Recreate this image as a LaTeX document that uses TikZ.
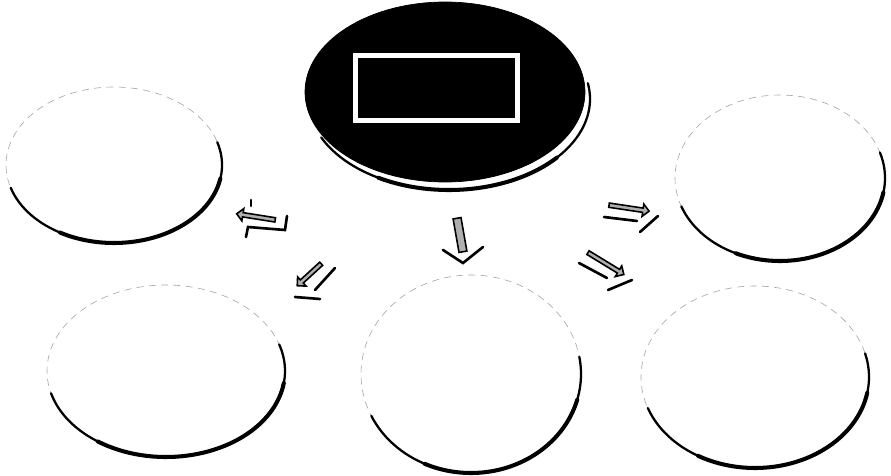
\documentclass[tikz,border=0pt]{standalone}
\usepackage{tikz}
\usetikzlibrary{shapes.geometric, shapes.arrows}
\definecolor{faintgrey}{RGB}{165,165,165}
\definecolor{arrowgrey}{RGB}{175,175,175}

\begin{document}
\begin{tikzpicture}[x=0.2mm, y=0.2mm,
    bubble/.style={ellipse, draw=faintgrey, line width=0.35pt, dash pattern=on 4pt off 3pt, inner sep=0pt},
    rim/.style={black, line width=1.3pt, line cap=round},
    rimheavy/.style={black, line width=2.3pt, line cap=round},
    blockarrow/.style={single arrow, draw=black, line width=0.9pt, fill=arrowgrey,
        inner sep=0pt, minimum width=2.5mm, single arrow head extend=0.3mm},
    smear/.style={black, line width=1.5pt, line cap=round}]

    \useasboundingbox (0,0) rectangle (891,475);

    % hub with its offset shadow line
    \draw[rim] (449,376) ++(205:141 and 91) arc[start angle=205, end angle=370, x radius=141, y radius=91];
    \draw[rimheavy] (449,376) ++(240:141 and 91) arc[start angle=240, end angle=320, x radius=141, y radius=91];
    \node[ellipse, fill=black, draw=black, inner sep=0pt, minimum width=56mm, minimum height=36mm]
        (hub) at (445,383) {};
    \node[draw=white, line width=1mm, inner sep=0pt, minimum width=32.4mm, minimum height=13mm]
        (label) at (436,387) {};

    % the five empty bubbles
    \node[bubble, minimum width=43.2mm, minimum height=31.2mm] (tl) at (114,310) {};
    \draw[rim] (tl.center) ++(197:108 and 78) arc[start angle=197, end angle=377, x radius=108, y radius=78];
    \draw[rimheavy] (tl.center) ++(240:108 and 78) arc[start angle=240, end angle=350, x radius=108, y radius=78];

    \node[bubble, minimum width=42mm, minimum height=33.2mm] (tr) at (780,297) {};
    \draw[rim] (tr.center) ++(200:105 and 83) arc[start angle=200, end angle=378, x radius=105, y radius=83];
    \draw[rimheavy] (tr.center) ++(245:105 and 83) arc[start angle=245, end angle=350, x radius=105, y radius=83];

    \node[bubble, minimum width=47.6mm, minimum height=34.4mm] (bl) at (166,104) {};
    \draw[rim] (bl.center) ++(195:119 and 86) arc[start angle=195, end angle=378, x radius=119, y radius=86];
    \draw[rimheavy] (bl.center) ++(235:119 and 86) arc[start angle=235, end angle=352, x radius=119, y radius=86];

    \node[bubble, minimum width=44mm, minimum height=39.6mm] (bc) at (471,101) {};
    \draw[rim] (bc.center) ++(205:110 and 99) arc[start angle=205, end angle=370, x radius=110, y radius=99];
    \draw[rimheavy] (bc.center) ++(245:110 and 99) arc[start angle=245, end angle=345, x radius=110, y radius=99];

    \node[bubble, minimum width=45.6mm, minimum height=36.4mm] (br) at (755,98) {};
    \draw[rim] (br.center) ++(200:114 and 91) arc[start angle=200, end angle=375, x radius=114, y radius=91];
    \draw[rimheavy] (br.center) ++(240:114 and 91) arc[start angle=240, end angle=350, x radius=114, y radius=91];

    % arrows out of the hub, each with its smudged shadow
    \node[blockarrow, minimum height=7.8mm, rotate=171] (to-tl) at (257,258) {};
    \draw[smear] (251,275) -- (251,269);
    \draw[smear] (246,238) -- (248,248) -- (285,245) -- (287,259);

    \node[blockarrow, minimum height=6.5mm, rotate=222.5] (to-bl) at (310,201) {};
    \draw[smear] (335,207) -- (315,185);
    \draw[smear] (295,178) -- (320,176);

    \node[draw=black, line width=0.9pt, fill=arrowgrey, inner sep=0pt,
        minimum width=6.8mm, minimum height=1.6mm, rotate=-80] (to-bc) at (460,240) {};
    \draw[smear] (443,225) -- (463,212) -- (483,228);

    \node[blockarrow, minimum height=8.1mm, rotate=-8.5] (to-tr) at (628,267) {};
    \draw[smear] (604,258) -- (637,254);
    \draw[smear] (640,243) -- (658,259);

    \node[blockarrow, minimum height=8.4mm, rotate=-31.4] (to-br) at (605,212) {};
    \draw[smear] (579,212) -- (607,197);
    \draw[smear] (608,185) -- (632,195);

\end{tikzpicture}
\end{document}
